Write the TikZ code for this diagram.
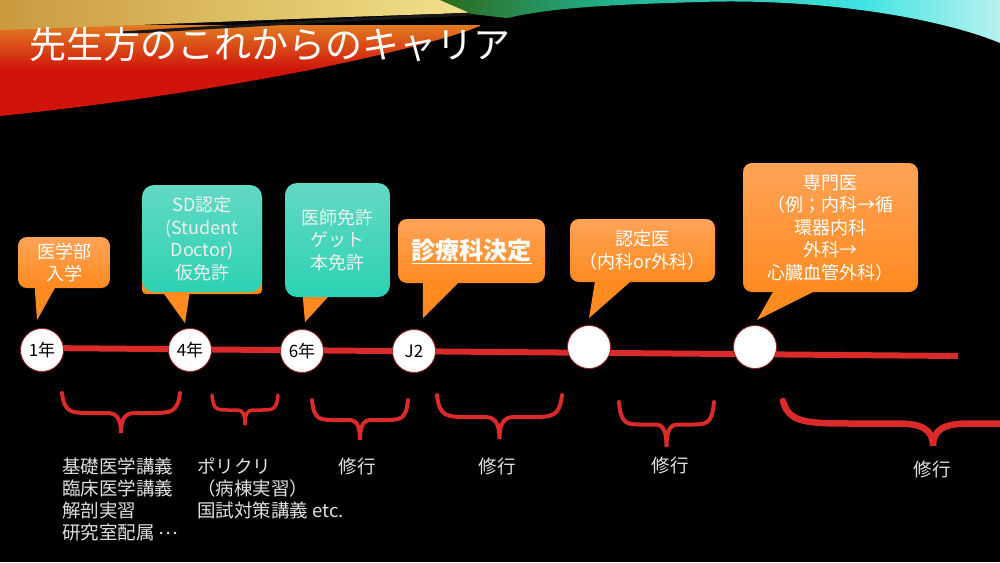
\documentclass[tikz,border=0pt]{standalone}
\usepackage{fontspec}
\setmainfont{Noto Sans CJK JP}
\usetikzlibrary{calc}

\definecolor{orangetop}{HTML}{FFA357}
\definecolor{orangebot}{HTML}{FF8A1F}
\definecolor{tealtop}{HTML}{62D9C4}
\definecolor{tealbot}{HTML}{2CD2B2}
\definecolor{linered}{HTML}{DB2A2A}
\definecolor{ringred}{HTML}{9E1E1E}
\definecolor{swred}{HTML}{D0140A}
\definecolor{sworange}{HTML}{E27A22}
\definecolor{swyellow}{HTML}{C99A3C}
\definecolor{swlight}{HTML}{F2E28C}
\definecolor{swgreen}{HTML}{2B6B1C}
\definecolor{swteal}{HTML}{22B08C}
\definecolor{swcyan}{HTML}{3FE3E3}
\definecolor{swpale}{HTML}{B8F2EE}

% x, top y, width, height, line width
\newcommand{\redbrace}[5]{%
  \draw[draw=linered, line width=#5, line cap=round, shift={(#1,#2)}, xscale=#3, yscale=#4]
    (0,0) .. controls (0.02,0.5) and (0.08,0.5) .. (0.25,0.5) -- (0.38,0.5)
    .. controls (0.46,0.5) and (0.5,0.62) .. (0.5,1)
    .. controls (0.5,0.62) and (0.54,0.5) .. (0.62,0.5) -- (0.75,0.5)
    .. controls (0.92,0.5) and (0.98,0.5) .. (1,0);}

\begin{document}
\begin{tikzpicture}[x=1pt,y=-1pt,
    year/.style={circle,fill=white,draw=ringred,line width=0.8pt,minimum size=43pt,
      inner sep=0pt,font=\fontsize{17}{17}\selectfont},
    orangebox/.style={rounded corners=9pt,top color=orangetop,bottom color=orangebot,
      text=white,align=center,inner sep=0pt,font=\fontsize{18}{22.5}\selectfont},
    tealbox/.style={rounded corners=12pt,top color=tealtop,bottom color=tealbot,
      text=white!94!black,align=center,inner sep=0pt,font=\fontsize{18}{22.5}\selectfont},
    pointer/.style={fill=orangebot},
    lowtext/.style={text=white!88!black,align=left,inner sep=0pt,anchor=north west,
      font=\fontsize{18.5}{22}\selectfont},
    training/.style={text=white!88!black,inner sep=0pt,font=\fontsize{18.5}{22}\selectfont}
  ]
  \useasboundingbox (0,0) rectangle (1000,562);
  \clip (0,0) rectangle (1000,562);
  \fill[black] (0,0) rectangle (1000,562);

  % swoosh at the top
  \begin{scope}
    \clip (0,0) -- (1000,0) -- (1000,43) .. controls (940,18) and (820,-2) .. (700,2)
      .. controls (600,5) and (520,8) .. (470,30)
      .. controls (380,60) and (200,95) .. (0,116) -- cycle;
    \shade[top color=sworange, bottom color=swred] (0,25) rectangle (480,70);
    \fill[swred] (0,69) rectangle (480,120);
    \shade[left color=swyellow, right color=swlight] (0,0) -- (475,0) -- (468,13)
      .. controls (330,17) and (150,25) .. (0,30) -- cycle;
    \draw[black!90, line width=3pt] (120,33) .. controls (250,25) and (380,18) .. (472,14);
    \shade[left color=swgreen, right color=swteal] (440,0) -- (610,0) -- (610,30) -- (472,14) -- cycle;
    \shade[left color=swteal, right color=swcyan] (605,0) rectangle (860,60);
    \shade[left color=swcyan, right color=swpale] (860,0) rectangle (1000,60);
  \end{scope}

  \node[anchor=west, text=white, inner sep=0pt, font=\fontsize{37}{37}\selectfont] (title) at (29,45) {先生方のこれからのキャリア};

  % timeline
  \coordinate (linestart) at (42,348);
  \coordinate (lineend) at (958,356);
  \draw[linered, line width=6pt] (linestart) -- (lineend);

  \node[year] (y1) at (42,350) {1年};
  \node[year] (y4) at (190,350) {4年};
  \node[year] (y6) at (302,351) {6年};
  \node[year] (j2) at (414,351) {J2};
  \node[year] (nintei) at (589,347) {};
  \node[year] (senmon) at (755,347) {};

  % callouts
  \node[orangebox, minimum width=92pt, minimum height=51pt] (igaku) at (64,262.5) {医学部\\入学};
  \fill[pointer] ($(igaku.south west)+(17,0)$) -- ($(y1.north)+(-5,-8)$) -- ($(igaku.south west)+(37,0)$) -- cycle;

  \node[orangebox, rounded corners=4pt, minimum width=120pt, minimum height=100pt] (sdback) at (202,244) {};
  \node[tealbox, minimum width=120pt, minimum height=107pt] (sd) at (202,238.5) {SD認定\\(Student\\Doctor)\\仮免許};
  \fill[pointer] ($(sd.south west)+(21,0)$) -- ($(y4.north)+(-5,-5)$) -- ($(sd.south west)+(48,0)$) -- cycle;

  \node[tealbox, minimum width=105pt, minimum height=114pt] (menkyo) at (337.5,240) {医師免許\\ゲット\\本免許};
  \fill[pointer] ($(menkyo.south west)+(18,0)$) -- ($(y6.north)+(3,-7)$) -- ($(menkyo.south west)+(43,0)$) -- cycle;

  \node[orangebox, minimum width=147pt, minimum height=64pt, font=\fontsize{24}{24}\bfseries] (kettei) at (471.5,251) {\underline{診療科決定}};
  \fill[pointer] ($(kettei.south west)+(25,0)$) -- ($(j2.north)+(9,-11)$) -- ($(kettei.south west)+(60,0)$) -- cycle;

  \node[orangebox, minimum width=145pt, minimum height=63pt] (ninteibox) at (642.5,250.5) {認定医\\（内科or外科）};
  \fill[pointer] ($(ninteibox.south west)+(25,0)$) -- ($(nintei.north)+(0,-7)$) -- ($(ninteibox.south west)+(60,0)$) -- cycle;

  \node[orangebox, minimum width=175pt, minimum height=129pt] (senmonbox) at (830.5,227.5) {専門医\\（例；内科→循\\環器内科\\外科→\\心臓血管外科）};
  \fill[pointer] ($(senmonbox.south west)+(30,0)$) -- ($(senmon.north)+(2,-5)$) -- ($(senmonbox.south west)+(70,0)$) -- cycle;

  % braces
  \redbrace{62}{393}{118}{40}{4pt}
  \redbrace{212}{395}{66}{30}{3.5pt}
  \redbrace{312}{400}{96}{40}{4pt}
  \redbrace{437}{395}{125}{44}{4pt}
  \redbrace{619}{402}{95}{45}{4pt}
  \redbrace{783}{401}{300}{45}{6.5pt}

  % what happens in each period
  \node[lowtext] (kiso) at (62,458) {基礎医学講義\\臨床医学講義\\解剖実習\\研究室配属 \raisebox{0.3em}{…}};
  \node[lowtext] (porikuri) at (197,458) {ポリクリ\\（病棟実習）\\国試対策講義 etc.};
  \node[training] (shugyo1) at (357,466) {修行};
  \node[training] (shugyo2) at (497,466) {修行};
  \node[training] (shugyo3) at (670,465) {修行};
  \node[training] (shugyo4) at (932,469) {修行};
\end{tikzpicture}
\end{document}
